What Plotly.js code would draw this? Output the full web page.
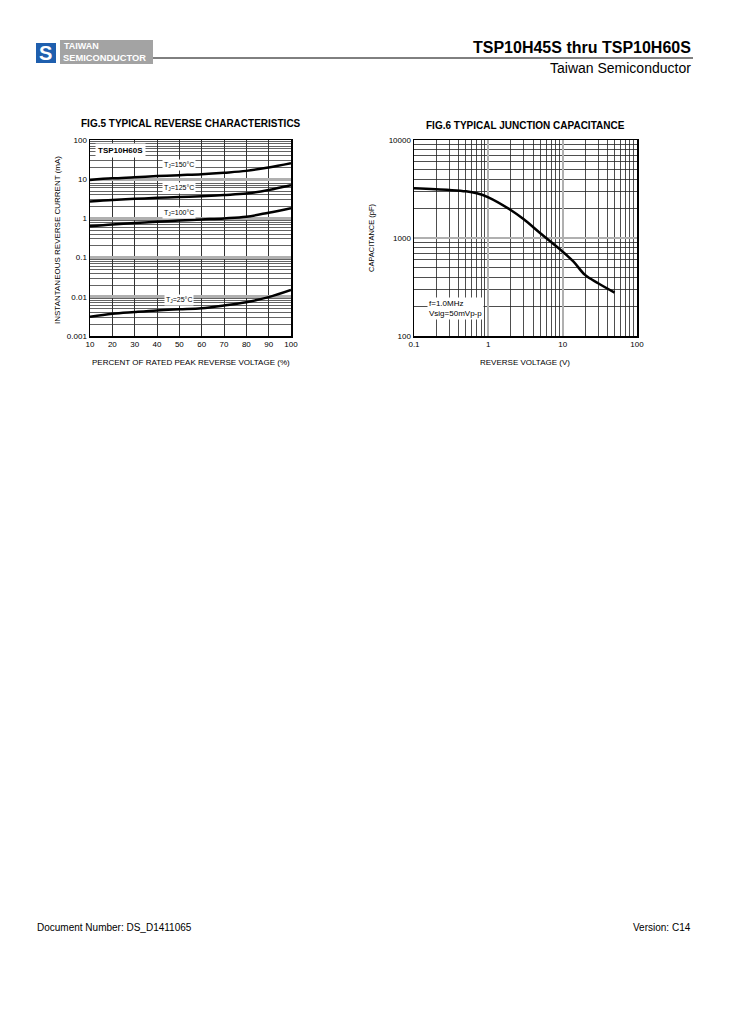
<!DOCTYPE html>
<html>
<head>
<meta charset="utf-8">
<script src="https://cdn.plot.ly/plotly-3.0.1.min.js"></script>
<style>
  body { margin: 0; padding: 0; background: #fff; }
  #chart { width: 729px; height: 1032px; }
</style>
</head>
<body>
<div id="chart"></div>
<script>
// FIG.5 - reverse current vs percent of rated voltage
const pctV = [10, 20, 30, 40, 50, 60, 70, 80, 90, 100];
const ir150 = [9.6, 10.5, 11.2, 12.0, 12.7, 13.4, 14.6, 16.3, 20.0, 25.7];
const ir125 = [2.7, 2.95, 3.15, 3.35, 3.5, 3.7, 3.95, 4.3, 5.3, 7.0];
const ir100 = [0.63, 0.70, 0.76, 0.82, 0.88, 0.94, 1.0, 1.1, 1.4, 1.83];
const ir25 = [0.0031, 0.0037, 0.0041, 0.0045, 0.0048, 0.0051, 0.006, 0.0073, 0.0098, 0.0149];

// FIG.6 - junction capacitance vs reverse voltage
const vr = [0.1, 0.3, 0.5, 0.7, 1, 2, 3, 5, 10, 14, 20, 30, 50];
const cj = [3215, 3090, 2995, 2860, 2600, 1930, 1550, 1117, 725, 573, 420, 345, 277];

const fig5YTicks = [0.001, 0.01, 0.1, 1, 10, 100];
const fig5YText = ['0.001', '0.01', '0.1', '1', '10', '100'];
const fig6XTicks = [0.1, 1, 10, 100];
const fig6XText = ['0.1', '1', '10', '100'];
const fig6YTicks = [100, 1000, 10000];
const fig6YText = ['100', '1000', '10000'];

const font = 'Liberation Sans, Arial, sans-serif';
const curve = {color: '#000', width: 2.5, shape: 'spline', smoothing: 1};

const data = [
    {x: pctV, y: ir150, mode: 'lines', line: curve, xaxis: 'x', yaxis: 'y', hoverinfo: 'none'},
    {x: pctV, y: ir125, mode: 'lines', line: curve, xaxis: 'x', yaxis: 'y', hoverinfo: 'none'},
    {x: pctV, y: ir100, mode: 'lines', line: curve, xaxis: 'x', yaxis: 'y', hoverinfo: 'none'},
    {x: pctV, y: ir25, mode: 'lines', line: curve, xaxis: 'x', yaxis: 'y', hoverinfo: 'none'},
    {x: vr, y: cj, mode: 'lines', line: curve, xaxis: 'x2', yaxis: 'y2', hoverinfo: 'none'}
];

const tickFont = {family: font, size: 8, color: '#000'};

function note(text, x, y, xref, yref, opts) {
    return Object.assign({
        text: text, x: x, y: y, xref: xref, yref: yref,
        xanchor: 'center', yanchor: 'middle',
        showarrow: false, font: {family: font, size: 7, color: '#000'},
        bgcolor: '#fff'
    }, opts || {});
}

const annotations = [
    // header / footer
    note('<b>TSP10H45S thru TSP10H60S</b>', 693, 48, 'paper', 'paper', {font: {family: font, size: 16, color: '#000'}, xanchor: 'right', bgcolor: null}),
    note('Taiwan Semiconductor', 693, 68, 'paper', 'paper', {font: {family: font, size: 14, color: '#000'}, xanchor: 'right', bgcolor: null}),
    note('<b>TAIWAN</b>', 62, 46, 'paper', 'paper', {font: {family: font, size: 9, color: '#fff'}, xanchor: 'left', bgcolor: null}),
    note('<b>SEMICONDUCTOR</b>', 61, 58, 'paper', 'paper', {font: {family: font, size: 9.3, color: '#fff'}, xanchor: 'left', bgcolor: null}),
    note('<b>S</b>', 46, 53, 'paper', 'paper', {font: {family: font, size: 20, color: '#fff'}, bgcolor: null}),
    note('Document Number: DS_D1411065', 35, 927, 'paper', 'paper', {font: {family: font, size: 10, color: '#000'}, xanchor: 'left', bgcolor: null}),
    note('Version: C14', 693, 927, 'paper', 'paper', {font: {family: font, size: 10, color: '#000'}, xanchor: 'right', bgcolor: null}),
    // chart titles
    note('<b>FIG.5 TYPICAL REVERSE CHARACTERISTICS</b>', 191, 124, 'paper', 'paper', {font: {family: font, size: 10, color: '#000'}, bgcolor: null}),
    note('<b>FIG.6 TYPICAL JUNCTION CAPACITANCE</b>', 525, 125, 'paper', 'paper', {font: {family: font, size: 10, color: '#000'}, bgcolor: null}),
    note('PERCENT OF RATED PEAK REVERSE VOLTAGE (%)', 191, 363, 'paper', 'paper', {font: {family: font, size: 8, color: '#000'}, bgcolor: null}),
    note('REVERSE VOLTAGE (V)', 525, 363, 'paper', 'paper', {font: {family: font, size: 8, color: '#000'}, bgcolor: null}),
    note('INSTANTANEOUS REVERSE CURRENT (mA)', 58, 240, 'paper', 'paper', {font: {family: font, size: 8, color: '#000'}, textangle: -90, bgcolor: null}),
    note('CAPACITANCE (pF)', 372, 238, 'paper', 'paper', {font: {family: font, size: 7.5, color: '#000'}, textangle: -90, bgcolor: null}),
    // in-plot labels
    note('<b>TSP10H60S</b>', 23.5, 1.72, 'x', 'y', {font: {family: font, size: 8, color: '#000'}, borderpad: 2}),
    note('T<sub>J</sub>=150°C', 50, 1.36, 'x', 'y'),
    note('T<sub>J</sub>=125°C', 50, 0.77, 'x', 'y'),
    note('T<sub>J</sub>=100°C', 50, 0.13, 'x', 'y'),
    note('T<sub>J</sub>=25°C', 50, -2.08, 'x', 'y'),
    note('f=1.0MHz<br>Vsig=50mVp-p', -0.83, 2.28, 'x2', 'y2', {xanchor: 'left', align: 'left', font: {family: font, size: 8, color: '#000'}})
];

// paper coords given in pixels -> convert
annotations.forEach(function(a) {
    if (a.xref === 'paper') { a.x = a.x / 729; }
    if (a.yref === 'paper') { a.y = 1 - a.y / 1032; }
});

const layout = {
    width: 729, height: 1032,
    margin: {l: 0, r: 0, t: 0, b: 0},
    paper_bgcolor: '#fff', plot_bgcolor: '#fff',
    showlegend: false,
    font: {family: font, color: '#000'},
    xaxis: {
        domain: [90 / 729, 291 / 729], anchor: 'y',
        range: [10, 100], tickvals: pctV, ticks: '',
        tickfont: tickFont, showgrid: true, gridcolor: '#333', gridwidth: 1,
        showline: true, linecolor: '#000', linewidth: 1.5, mirror: true, zeroline: false
    },
    yaxis: {
        domain: [1 - 336 / 1032, 1 - 140 / 1032], anchor: 'x',
        type: 'log', range: [-3, 2], tickvals: fig5YTicks, ticktext: fig5YText, ticks: '',
        tickfont: tickFont, showgrid: true, gridcolor: '#b0b0b0', gridwidth: 3,
        minor: {dtick: 'D1', showgrid: true, gridcolor: '#222', gridwidth: 0.7},
        showline: true, linecolor: '#000', linewidth: 1.5, mirror: true, zeroline: false
    },
    xaxis2: {
        domain: [414 / 729, 637 / 729], anchor: 'y2',
        type: 'log', range: [-1, 2], tickvals: fig6XTicks, ticktext: fig6XText, ticks: '',
        tickfont: tickFont, showgrid: true, gridcolor: '#b0b0b0', gridwidth: 2,
        minor: {dtick: 'D1', showgrid: true, gridcolor: '#222', gridwidth: 0.8},
        showline: true, linecolor: '#000', linewidth: 1.5, mirror: true, zeroline: false
    },
    yaxis2: {
        domain: [1 - 336 / 1032, 1 - 140 / 1032], anchor: 'x2',
        type: 'log', range: [2, 4], tickvals: fig6YTicks, ticktext: fig6YText, ticks: '',
        tickfont: tickFont, showgrid: true, gridcolor: '#b0b0b0', gridwidth: 2,
        minor: {dtick: 'D1', showgrid: true, gridcolor: '#222', gridwidth: 0.8},
        showline: true, linecolor: '#000', linewidth: 1.5, mirror: true, zeroline: false
    },
    annotations: annotations,
    shapes: [
        {type: 'rect', xref: 'paper', yref: 'paper', x0: 60 / 729, x1: 153 / 729, y0: 1 - 64 / 1032, y1: 1 - 40 / 1032, fillcolor: '#a3a3a3', line: {width: 0}},
        {type: 'rect', xref: 'paper', yref: 'paper', x0: 36 / 729, x1: 56 / 729, y0: 1 - 63 / 1032, y1: 1 - 43 / 1032, fillcolor: '#1f5fae', line: {width: 0}},
        {type: 'line', xref: 'paper', yref: 'paper', x0: 153 / 729, x1: 693 / 729, y0: 1 - 58 / 1032, y1: 1 - 58 / 1032, line: {color: '#000', width: 1}}
    ]
};

Plotly.newPlot('chart', data, layout, {staticPlot: true});
</script>
</body>
</html>
